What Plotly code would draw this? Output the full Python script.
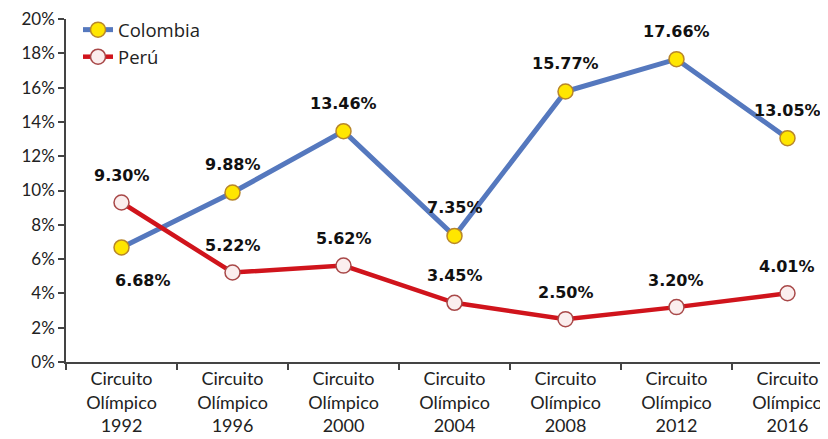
import plotly.graph_objects as go

categories = ["Circuito<br>Olímpico<br>1992", "Circuito<br>Olímpico<br>1996", "Circuito<br>Olímpico<br>2000",
              "Circuito<br>Olímpico<br>2004", "Circuito<br>Olímpico<br>2008", "Circuito<br>Olímpico<br>2012",
              "Circuito<br>Olímpico<br>2016"]
colombia = [0.0668, 0.0988, 0.1346, 0.0735, 0.1577, 0.1766, 0.1305]
peru = [0.0930, 0.0522, 0.0562, 0.0345, 0.0250, 0.0320, 0.0401]
y_ticks = [0, 0.02, 0.04, 0.06, 0.08, 0.10, 0.12, 0.14, 0.16, 0.18, 0.20]

fig = go.Figure()
fig.add_trace(go.Scatter(
    x=categories, y=colombia, name="Colombia", mode="lines+markers",
    line=dict(color="#5578BE", width=5),
    marker=dict(size=15, color="#FFE600", line=dict(color="#B8862A", width=1.5)),
))
fig.add_trace(go.Scatter(
    x=categories, y=peru, name="Perú", mode="lines+markers",
    line=dict(color="#D0141C", width=4.5),
    marker=dict(size=15, color="#FBEEEE", line=dict(color="#A84848", width=1.5)),
))

label_font = dict(family="DejaVu Sans", size=16, color="#111111")
for i, v in enumerate(colombia):
    xs, ys = 0, 28
    if i == 0:
        xs, ys = 21, -33
    fig.add_annotation(x=categories[i], y=v, text="<b>%.2f%%</b>" % (v * 100), showarrow=False,
                       xshift=xs, yshift=ys, font=label_font)
for i, v in enumerate(peru):
    fig.add_annotation(x=categories[i], y=v, text="<b>%.2f%%</b>" % (v * 100), showarrow=False,
                       xshift=0, yshift=27, font=label_font)

fig.update_layout(
    width=828, height=439,
    margin=dict(l=58, r=0, t=11, b=85),
    plot_bgcolor="white", paper_bgcolor="white",
    font=dict(family="Lato", size=16, color="#222222"),
    showlegend=True,
    legend=dict(x=0.0156, y=1.023, xanchor="left", yanchor="top", bgcolor="rgba(0,0,0,0)",
                font=dict(family="Open Sans", size=18.5, color="#222222"),
                tracegroupgap=0, itemwidth=30),
    xaxis=dict(
        type="category", range=[-0.5, 6.437], automargin=False,
        showline=True, linecolor="#444444", linewidth=1.5,
        ticks="outside", tickson="boundaries", ticklen=6, tickcolor="#444444", tickwidth=1.5,
        showgrid=False, tickfont=dict(family="Lato", size=18, color="#222222"),
        ticklabeloverflow="allow",
    ),
    yaxis=dict(
        range=[0, 0.2], tickvals=y_ticks, tickformat=".0%", automargin=False,
        showline=True, linecolor="#444444", linewidth=1.5,
        ticks="outside", ticklen=6, tickcolor="#444444", tickwidth=1.5,
        showgrid=False, zeroline=False, tickfont=dict(family="Lato", size=17, color="#222222"),
        ticklabeloverflow="allow",
    ),
)

fig.write_html("out.html")
